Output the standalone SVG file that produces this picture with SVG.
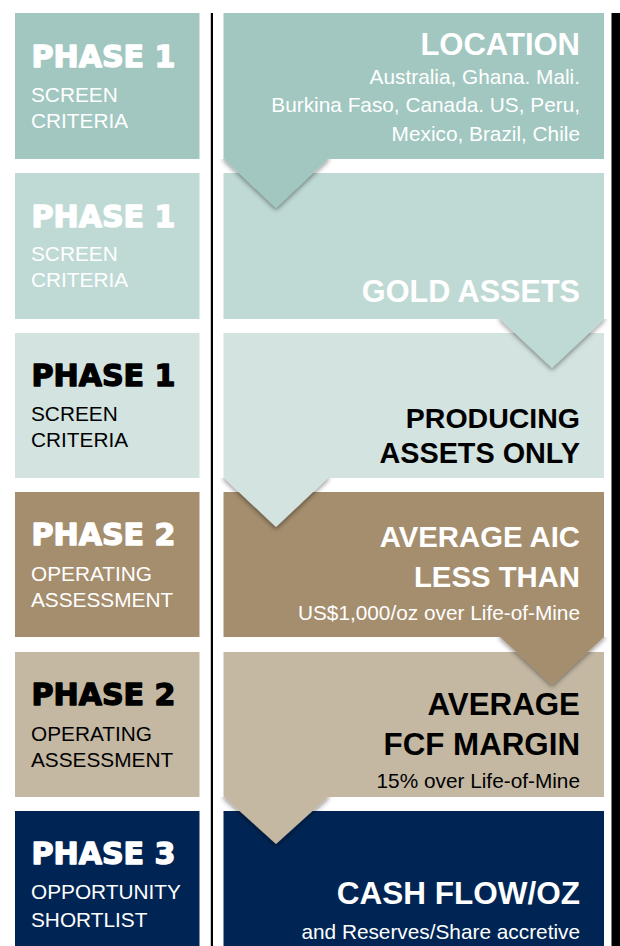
<svg xmlns="http://www.w3.org/2000/svg" width="620" height="946" viewBox="0 0 620 946">
<style>
.ph{font-family:"DejaVu Sans","Liberation Sans",Arial,sans-serif;font-weight:bold;font-size:30px;stroke-width:1.4px;stroke-linejoin:round}
.sub{font-family:"Liberation Sans",Arial,sans-serif;font-size:20.8px}
.big{font-family:"Liberation Sans",Arial,sans-serif;font-weight:bold;text-anchor:end}
.r{text-anchor:end}
.w{fill:#ffffff;stroke:#ffffff}
.k{fill:#000000;stroke:#000000}
.sub.w,.big.w{stroke:none}
.sub.k,.big.k{stroke:none}
</style>
<defs>
<filter id="sh" x="-30%" y="-30%" width="160%" height="160%">
<feDropShadow dx="0" dy="2" stdDeviation="2.5" flood-color="#000" flood-opacity="0.45"/>
</filter>
<clipPath id="c1"><rect x="200" y="159" width="411" height="70"/></clipPath>
<clipPath id="c2"><rect x="200" y="319" width="411" height="70"/></clipPath>
<clipPath id="c3"><rect x="200" y="478" width="411" height="70"/></clipPath>
<clipPath id="c4"><rect x="200" y="637" width="411" height="70"/></clipPath>
<clipPath id="c5"><rect x="200" y="797" width="411" height="70"/></clipPath>
</defs>
<rect width="620" height="946" fill="#ffffff"/>
<rect x="210.8" y="13" width="2.2" height="933" fill="#000"/>
<rect x="611.5" y="13" width="8.5" height="933" fill="#000"/>

<g id="phase-row1">
<rect x="15" y="13" width="184.5" height="146" fill="#A1C7C0"/>
<text class="ph w" x="31.5" y="67" textLength="144" lengthAdjust="spacingAndGlyphs">PHASE 1</text>
<text class="sub w" x="31" y="102">SCREEN</text>
<text class="sub w" x="31" y="128">CRITERIA</text>
</g>
<g id="criterion-location">
<rect x="223.5" y="13" width="380.5" height="146" fill="#A1C7C0"/>
<text class="big w" x="580" y="55" font-size="31">LOCATION</text>
<text class="sub w r" x="580" y="84">Australia, Ghana. Mali.</text>
<text class="sub w r" x="580" y="112">Burkina Faso, Canada. US, Peru,</text>
<text class="sub w r" x="580" y="140.5">Mexico, Brazil, Chile</text>
</g>

<g id="phase-row2">
<rect x="15" y="173" width="184.5" height="146" fill="#BFDAD5"/>
<text class="ph w" x="31.5" y="227" textLength="144" lengthAdjust="spacingAndGlyphs">PHASE 1</text>
<text class="sub w" x="31" y="261">SCREEN</text>
<text class="sub w" x="31" y="287">CRITERIA</text>
</g>
<g id="criterion-gold">
<rect x="223.5" y="173" width="380.5" height="146" fill="#BFDAD5"/>
<text class="big w" x="580" y="301.5" font-size="30.6">GOLD ASSETS</text>
</g>

<g id="phase-row3">
<rect x="15" y="333" width="184.5" height="145" fill="#D3E3E0"/>
<text class="ph k" x="31.5" y="385.5" textLength="144" lengthAdjust="spacingAndGlyphs">PHASE 1</text>
<text class="sub k" x="31" y="420.5">SCREEN</text>
<text class="sub k" x="31" y="446.5">CRITERIA</text>
</g>
<g id="criterion-producing">
<rect x="223.5" y="333" width="380.5" height="145" fill="#D3E3E0"/>
<text class="big k" x="580" y="427.5" font-size="28.5">PRODUCING</text>
<text class="big k" x="580" y="463" font-size="28.8">ASSETS ONLY</text>
</g>

<g id="phase-row4">
<rect x="15" y="492" width="184.5" height="145" fill="#A58E6E"/>
<text class="ph w" x="31.5" y="544.5" textLength="144" lengthAdjust="spacingAndGlyphs">PHASE 2</text>
<text class="sub w" x="31" y="580.5">OPERATING</text>
<text class="sub w" x="31" y="606.5">ASSESSMENT</text>
</g>
<g id="criterion-aic">
<rect x="223.5" y="492" width="380.5" height="145" fill="#A58E6E"/>
<text class="big w" x="580" y="547" font-size="29.3">AVERAGE AIC</text>
<text class="big w" x="580" y="587" font-size="29.3">LESS THAN</text>
<text class="sub w r" x="580" y="620">US$1,000/oz over Life-of-Mine</text>
</g>

<g id="phase-row5">
<rect x="15" y="652" width="184.5" height="145" fill="#C4B8A3"/>
<text class="ph k" x="31.5" y="704.5" textLength="144" lengthAdjust="spacingAndGlyphs">PHASE 2</text>
<text class="sub k" x="31" y="740.5">OPERATING</text>
<text class="sub k" x="31" y="766.5">ASSESSMENT</text>
</g>
<g id="criterion-fcf">
<rect x="223.5" y="652" width="380.5" height="145" fill="#C4B8A3"/>
<text class="big k" x="580" y="714.5" font-size="31.3">AVERAGE</text>
<text class="big k" x="580" y="755" font-size="31.3">FCF MARGIN</text>
<text class="sub k r" x="580" y="787.5">15% over Life-of-Mine</text>
</g>

<g id="phase-row6">
<rect x="15" y="811" width="184.5" height="135" fill="#002554"/>
<text class="ph w" x="31.5" y="864" textLength="144" lengthAdjust="spacingAndGlyphs">PHASE 3</text>
<text class="sub w" x="31" y="899">OPPORTUNITY</text>
<text class="sub w" x="31" y="926.5">SHORTLIST</text>
</g>
<g id="criterion-cashflow">
<rect x="223.5" y="811" width="380.5" height="135" fill="#002554"/>
<text class="big w" x="580" y="903.5" font-size="31.5">CASH FLOW/OZ</text>
<text class="sub w r" x="580" y="939">and Reserves/Share accretive</text>
</g>

<g id="connectors">
<g clip-path="url(#c1)"><polygon points="224,150 328,150 328,159 276,208 224,159" fill="#A1C7C0" filter="url(#sh)"/></g>
<g clip-path="url(#c2)"><polygon points="500,310 604,310 604,319 552,368 500,319" fill="#BFDAD5" filter="url(#sh)"/></g>
<g clip-path="url(#c3)"><polygon points="224,469 328,469 328,478 276,527 224,478" fill="#D3E3E0" filter="url(#sh)"/></g>
<g clip-path="url(#c4)"><polygon points="500,628 604,628 604,637 552,685 500,637" fill="#A58E6E" filter="url(#sh)"/></g>
<g clip-path="url(#c5)"><polygon points="224,788 328,788 328,797 276,844 224,797" fill="#C4B8A3" filter="url(#sh)"/></g>
</g>
</svg>
